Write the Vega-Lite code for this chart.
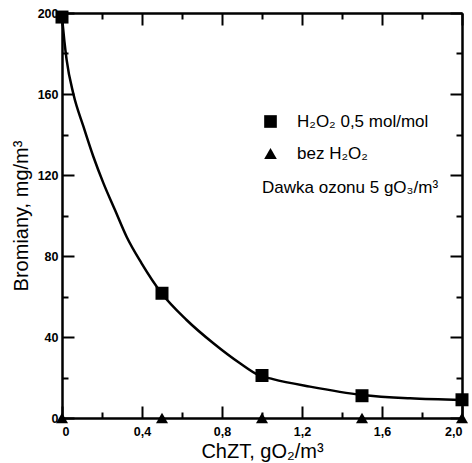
{
  "$schema": "https://vega.github.io/schema/vega-lite/v6.json",
  "width": 400,
  "height": 405,
  "autosize": "none",
  "padding": {"left": 62, "top": 13, "right": 10, "bottom": 45},
  "background": "white",
  "config": {
    "view": {"stroke": null},
    "font": "Liberation Sans",
    "axis": {
      "domainColor": "black", "domainWidth": 2,
      "tickColor": "black", "tickWidth": 2,
      "grid": false,
      "labelColor": "black", "titleColor": "black",
      "labelFont": "Liberation Sans", "titleFont": "Liberation Sans",
      "titleFontWeight": "normal", "titleFontSize": 20,
      "labelFontSize": 12.5, "labelFontWeight": "bold"
    }
  },
  "datasets": {
    "curve": [
      {"x": 0.0, "y": 198},
      {"x": 0.012, "y": 186},
      {"x": 0.023, "y": 177},
      {"x": 0.057, "y": 160},
      {"x": 0.107, "y": 144},
      {"x": 0.157, "y": 129},
      {"x": 0.207, "y": 116},
      {"x": 0.265, "y": 102.7},
      {"x": 0.323, "y": 89.5},
      {"x": 0.398, "y": 76.4},
      {"x": 0.498, "y": 61.6},
      {"x": 0.623, "y": 48.4},
      {"x": 0.757, "y": 36.9},
      {"x": 0.89, "y": 27},
      {"x": 0.982, "y": 21.2},
      {"x": 1.055, "y": 19.2},
      {"x": 1.24, "y": 15.5},
      {"x": 1.5, "y": 11.4},
      {"x": 1.74, "y": 9.7},
      {"x": 2.0, "y": 8.9}
    ],
    "squares": [
      {"x": 0.0, "y": 198, "series": "H₂O₂ 0,5 mol/mol"},
      {"x": 0.5, "y": 61.6, "series": "H₂O₂ 0,5 mol/mol"},
      {"x": 1.0, "y": 21, "series": "H₂O₂ 0,5 mol/mol"},
      {"x": 1.5, "y": 11, "series": "H₂O₂ 0,5 mol/mol"},
      {"x": 2.0, "y": 9, "series": "H₂O₂ 0,5 mol/mol"}
    ],
    "triangles": [
      {"x": 0.0, "y": 0, "series": "bez H₂O₂"},
      {"x": 0.5, "y": 0, "series": "bez H₂O₂"},
      {"x": 1.0, "y": 0, "series": "bez H₂O₂"},
      {"x": 1.5, "y": 0, "series": "bez H₂O₂"},
      {"x": 2.0, "y": 0, "series": "bez H₂O₂"}
    ],
    "note": [
      {"x": 1.0, "y": 111, "label": "Dawka ozonu 5 gO₃/m³"}
    ]
  },
  "resolve": {"axis": {"x": "independent", "y": "independent"}},
  "layer": [
    {
      "data": {"name": "curve"},
      "mark": {"type": "line", "color": "black", "strokeWidth": 2.5, "interpolate": "monotone", "clip": false},
      "encoding": {
        "x": {"field": "x", "type": "quantitative",
          "scale": {"domain": [0, 2], "nice": false, "zero": false},
          "axis": {"orient": "bottom", "values": [0, 0.4, 0.8, 1.2, 1.6, 2.0], "tickSize": -12,
            "labelPadding": 19,
            "labelExpr": "datum.value == 0 ? '0' : replace(format(datum.value, '.1f'), '.', ',')",
            "title": "ChZT, gO₂/m³", "titlePadding": 4}},
        "y": {"field": "y", "type": "quantitative",
          "scale": {"domain": [0, 200], "nice": false, "zero": false},
          "axis": {"orient": "left", "values": [0, 40, 80, 120, 160, 200], "tickSize": -12,
            "labelPadding": 16,
            "title": "Bromiany, mg/m³", "titlePadding": 6}}
      }
    },
    {
      "data": {"name": "squares"},
      "mark": {"type": "point", "filled": true, "color": "black", "opacity": 1, "size": 169, "clip": false},
      "encoding": {
        "x": {"field": "x", "type": "quantitative",
          "scale": {"domain": [0, 2], "nice": false, "zero": false},
          "axis": {"orient": "bottom", "values": [0.2, 0.6, 1.0, 1.4, 1.8], "tickSize": -6, "labels": false, "title": null}},
        "y": {"field": "y", "type": "quantitative",
          "scale": {"domain": [0, 200], "nice": false, "zero": false},
          "axis": {"orient": "left", "values": [20, 60, 100, 140, 180], "tickSize": -6, "labels": false, "title": null}},
        "shape": {"field": "series", "type": "nominal",
          "scale": {"domain": ["H₂O₂ 0,5 mol/mol", "bez H₂O₂"], "range": ["square", "triangle-up"]},
          "legend": {"orient": "none", "legendX": 200, "legendY": 100, "title": null,
            "labelFontSize": 17, "labelFont": "Liberation Sans", "labelColor": "black",
            "symbolSize": 160, "rowPadding": 14, "labelOffset": 18,
            "symbolFillColor": "black", "symbolStrokeColor": "black", "symbolStrokeWidth": 0}}
      }
    },
    {
      "data": {"name": "triangles"},
      "mark": {"type": "point", "filled": true, "color": "black", "opacity": 1, "size": 144, "clip": false},
      "encoding": {
        "x": {"field": "x", "type": "quantitative",
          "scale": {"domain": [0, 2], "nice": false, "zero": false},
          "axis": {"orient": "top", "values": [0, 0.4, 0.8, 1.2, 1.6, 2.0], "tickSize": -12, "labels": false, "title": null}},
        "y": {"field": "y", "type": "quantitative",
          "scale": {"domain": [0, 200], "nice": false, "zero": false},
          "axis": {"orient": "right", "values": [0, 40, 80, 120, 160, 200], "tickSize": -12, "labels": false, "title": null}},
        "shape": {"field": "series", "type": "nominal",
          "scale": {"domain": ["H₂O₂ 0,5 mol/mol", "bez H₂O₂"], "range": ["square", "triangle-up"]}}
      }
    },
    {
      "data": {"name": "note"},
      "mark": {"type": "text", "align": "left", "baseline": "alphabetic", "fontSize": 17, "font": "Liberation Sans", "color": "black"},
      "encoding": {
        "x": {"field": "x", "type": "quantitative",
          "scale": {"domain": [0, 2], "nice": false, "zero": false},
          "axis": {"orient": "top", "values": [0.2, 0.6, 1.0, 1.4, 1.8], "tickSize": -6, "labels": false, "title": null}},
        "y": {"field": "y", "type": "quantitative",
          "scale": {"domain": [0, 200], "nice": false, "zero": false},
          "axis": {"orient": "right", "values": [20, 60, 100, 140, 180], "tickSize": -6, "labels": false, "title": null}},
        "text": {"field": "label"}
      }
    }
  ]
}
